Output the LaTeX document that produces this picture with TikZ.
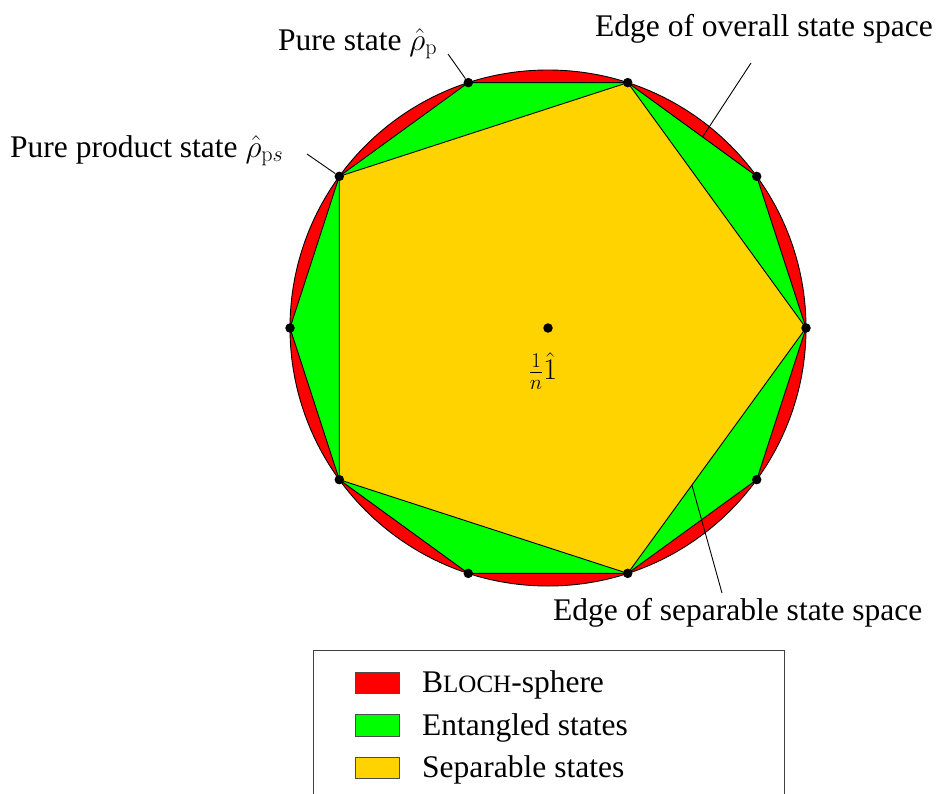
\RequirePackage{fix-cm}
\documentclass[tikz,border=0pt]{standalone}
\usepackage[no-math]{fontspec}
\setmainfont{Liberation Serif}
\usetikzlibrary{calc}
\definecolor{blochred}{RGB}{255,0,0}
\definecolor{entgreen}{RGB}{0,255,0}
\definecolor{sepgold}{RGB}{255,211,0}
\begin{document}
\begin{tikzpicture}[x=1pt,y=-1pt,
  region/.style={draw=black, line width=0.9pt, line join=round},
  statedot/.style={circle, fill=black, inner sep=0pt, minimum size=9.5pt},
  leader/.style={draw=black, line width=0.9pt},
  lbl/.style={font=\fontsize{31.5}{36}\selectfont, inner sep=0pt, anchor=base west},
  swatch/.style={draw=black!70, line width=0.9pt},
  ]
\clip (0,0) rectangle (939,793);
\coordinate (c) at (548,328);
\foreach \i in {0,...,9}
  \coordinate (v\i) at ({548+258*cos(36*\i)},{328-258*sin(36*\i)});
% regions
\filldraw[region, fill=blochred] (c) circle[radius=258pt];
\filldraw[region, fill=entgreen] (v0)--(v1)--(v2)--(v3)--(v4)--(v5)--(v6)--(v7)--(v8)--(v9)--cycle;
\filldraw[region, fill=sepgold] (v0)--(v2)--(v4)--(v6)--(v8)--cycle;
\foreach \i in {0,...,9}
  \node[statedot] (d\i) at (v\i) {};
\node[statedot] (cdot) at (c) {};
\node[inner sep=0pt, font=\fontsize{30}{34}\selectfont] (unity) at (543,371) {$\frac{1}{n}\hat{1}$};
% labels
\node[lbl] (lp) at (278,50) {Pure state $\hat\rho_{\mathrm{p}}$};
\coordinate (lpS) at (448,54);
\draw[leader] (lpS) -- (d3);
\node[lbl] (lps) at (10,157) {Pure product state $\hat\rho_{\mathrm{p}s}$};
\coordinate (lpsS) at (307,154);
\draw[leader] (lpsS) -- (d4);
\node[lbl] (lov) at (595,36) {Edge of overall state space};
\coordinate (lovS) at (751,63);
\coordinate (lovE) at ($(v2)!0.58!(v1)$);
\draw[leader] (lovS) -- (lovE);
\node[lbl] (lsep) at (553,620) {Edge of separable state space};
\coordinate (lsepS) at (722,593);
\coordinate (lsepE) at ($(v0)!0.64!(v8)$);
\draw[leader] (lsepS) -- (lsepE);
% legend
\draw[draw=black!75, line width=0.9pt] (313,650) rectangle (784,830);
\draw[swatch, fill=blochred] (355,672) rectangle (399,693);
\draw[swatch, fill=entgreen] (355,714) rectangle (399,736);
\draw[swatch, fill=sepgold] (355,757) rectangle (399,778);
\node[lbl] (lg1) at (422,692) {B{\fontsize{25}{30}\selectfont LOCH}-sphere};
\node[lbl] (lg2) at (422,735) {Entangled states};
\node[lbl] (lg3) at (422,777) {Separable states};
\end{tikzpicture}
\end{document}
